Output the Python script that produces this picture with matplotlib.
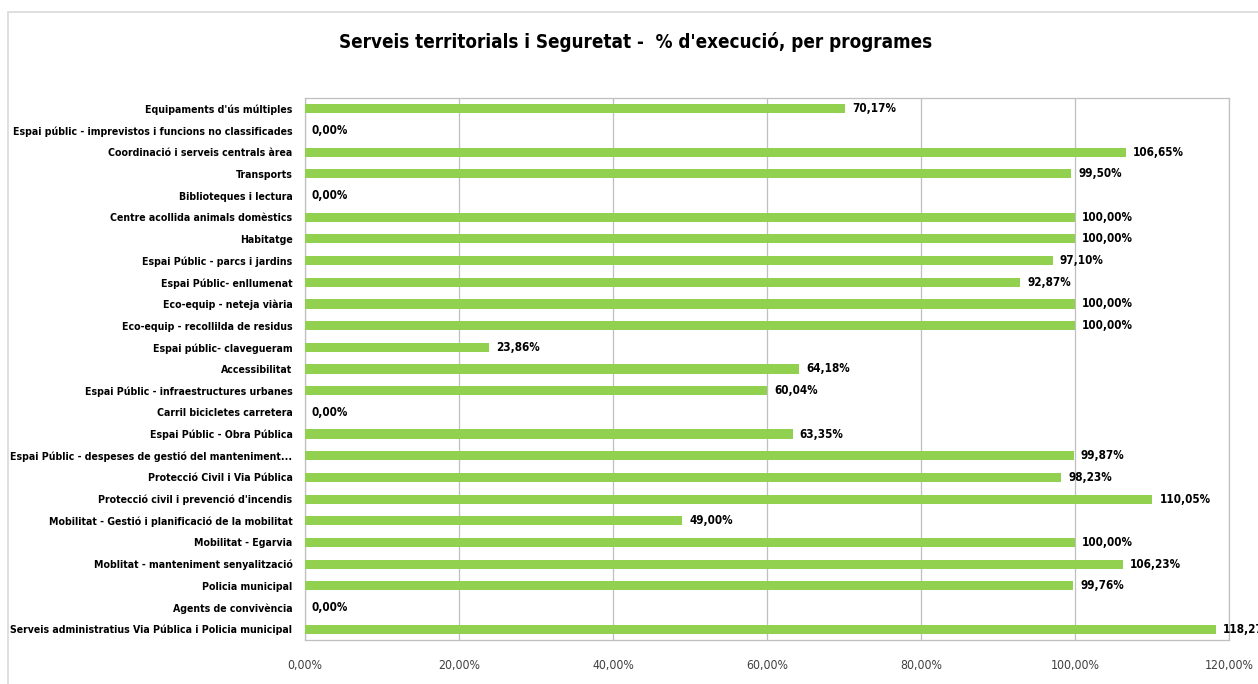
import matplotlib
matplotlib.use("Agg")
import matplotlib.pyplot as plt
from matplotlib.patches import Rectangle
from matplotlib import font_manager

cond = any(f.name == 'DejaVu Sans' and f.stretch == 'condensed' and f.weight in ('bold', 700)
           for f in font_manager.fontManager.ttflist)
plt.rcParams['font.family'] = ['DejaVu Sans']
plt.rcParams['font.stretch'] = 'condensed' if cond else 'normal'
scale = 1.0 if cond else 0.85

title = "Serveis territorials i Seguretat -  % d'execució, per programes"
categories = [
    "Equipaments d'ús múltiples",
    "Espai públic - imprevistos i funcions no classificades",
    "Coordinació i serveis centrals àrea",
    "Transports",
    "Biblioteques i lectura",
    "Centre acollida animals domèstics",
    "Habitatge",
    "Espai Públic - parcs i jardins",
    "Espai Públic- enllumenat",
    "Eco-equip - neteja viària",
    "Eco-equip - recollilda de residus",
    "Espai públic- clavegueram",
    "Accessibilitat",
    "Espai Públic - infraestructures urbanes",
    "Carril bicicletes carretera",
    "Espai Públic - Obra Pública",
    "Espai Públic - despeses de gestió del manteniment...",
    "Protecció Civil i Via Pública",
    "Protecció civil i prevenció d'incendis",
    "Mobilitat - Gestió i planificació de la mobilitat",
    "Mobilitat - Egarvia",
    "Moblitat - manteniment senyalització",
    "Policia municipal",
    "Agents de convivència",
    "Serveis administratius Via Pública i Policia municipal",
]
values = [70.17, 0.00, 106.65, 99.50, 0.00, 100.00, 100.00, 97.10, 92.87,
          100.00, 100.00, 23.86, 64.18, 60.04, 0.00, 63.35, 99.87, 98.23,
          110.05, 49.00, 100.00, 106.23, 99.76, 0.00, 118.27]
xticks = [0, 20, 40, 60, 80, 100, 120]

def fmt(v):
    return f"{v:.2f}".replace(".", ",") + "%"

fig = plt.figure(figsize=(12.58, 6.84), dpi=100)
fig.patches.append(Rectangle((8/1258, -0.01), 1.02, 1 - 12/684 + 0.01,
                             transform=fig.transFigure, fill=False,
                             edgecolor='#d9d9d9', linewidth=1.2))
ax = fig.add_axes([305/1258, 1 - 640/684, (1229 - 305)/1258, (640 - 98)/684])

y = list(range(len(categories)))
ax.barh(y, values, height=0.42, color='#92D050', zorder=3)
ax.set_ylim(len(categories) - 0.5, -0.5)
ax.set_xlim(0, 120)
ax.set_yticks(y)
ax.set_yticklabels(categories, fontsize=7.6 * scale, fontweight='bold')
ax.set_xticks(xticks)
ax.set_xticklabels([fmt(t) for t in xticks], fontsize=8.8 * scale, color='#404040')
ax.tick_params(axis='both', length=0)
ax.tick_params(axis='x', pad=14)
ax.tick_params(axis='y', pad=9)
ax.grid(axis='x', color='#bfbfbf', linewidth=0.9, zorder=0)
for s in ax.spines.values():
    s.set_color('#bfbfbf')
    s.set_linewidth(0.9)

for yi, v in zip(y, values):
    ax.annotate(fmt(v), (v, yi), xytext=(5, 0), textcoords='offset points',
                va='center', ha='left', fontsize=8.4 * scale, fontweight='bold',
                annotation_clip=False)

fig.text(0.5 + 0.005, 1 - 42/684, title, ha='center', va='center',
         fontsize=13.5 * scale, fontweight='bold')

fig.savefig('out.png', dpi=100)
